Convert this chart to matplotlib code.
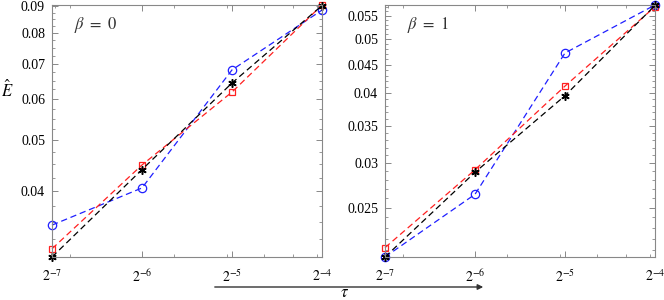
import matplotlib
matplotlib.use('Agg')
import matplotlib.pyplot as plt
from matplotlib.ticker import FixedLocator, FixedFormatter, LogLocator, NullFormatter
import numpy as np

plt.rcParams['font.family'] = ['Liberation Serif', 'DejaVu Serif']
plt.rcParams['mathtext.fontset'] = 'stix'

# step sizes tau = 2^-7 .. 2^-4
tau = [2**-7, 2**-6, 2**-5, 2**-4]
tau_labels = ['$2^{-7}$', '$2^{-6}$', '$2^{-5}$', '$2^{-4}$']

# beta = 0
b0_black = [0.0300, 0.0440, 0.0643, 0.0903]
b0_red = [0.0311, 0.0449, 0.0618, 0.0905]
b0_blue = [0.0345, 0.0406, 0.0681, 0.0885]

# beta = 1
b1_black = [0.0204, 0.0289, 0.0396, 0.0574]
b1_red = [0.0212, 0.0292, 0.0412, 0.0571]
b1_blue = [0.0204, 0.0264, 0.0472, 0.0575]

b0_yticks = [0.04, 0.05, 0.06, 0.07, 0.08, 0.09]
b1_yticks = [0.025, 0.03, 0.035, 0.04, 0.045, 0.05, 0.055]

frame = '#888888'

fig = plt.figure(figsize=(6.64, 3.0), dpi=100)
ax0 = fig.add_axes([52/664, 43/300, 270/664, 252/300])
ax1 = fig.add_axes([385/664, 43/300, 270/664, 252/300])


def draw(ax, black, red, blue, yticks, ylim, minor_step, label):
    ax.plot(tau, blue, color='#1f1fff', ls=(0, (5, 3)), lw=0.9, marker='o',
            mfc='none', ms=6, mew=0.9, clip_on=False)
    ax.plot(tau, red, color='#ff2020', ls=(0, (5, 3)), lw=0.9, marker='s',
            mfc='none', ms=5, mew=0.9, clip_on=False)
    ax.plot(tau, black, color='black', ls=(0, (5, 3)), lw=0.9,
            marker=(6, 2, 0), ms=6, mew=1.1, clip_on=False)
    ax.set_xscale('log')
    ax.set_yscale('log')
    ax.set_xlim(tau[0], tau[-1])
    ax.set_ylim(*ylim)
    ax.xaxis.set_major_locator(FixedLocator(tau))
    ax.xaxis.set_major_formatter(FixedFormatter(tau_labels))
    ax.xaxis.set_minor_locator(LogLocator(base=10, subs=np.arange(2, 10)))
    ax.xaxis.set_minor_formatter(NullFormatter())
    ax.yaxis.set_major_locator(FixedLocator(yticks))
    ax.yaxis.set_major_formatter(FixedFormatter([f'{v:g}' for v in yticks]))
    ax.yaxis.set_minor_locator(FixedLocator(np.arange(0.02, 0.1, minor_step)))
    ax.yaxis.set_minor_formatter(NullFormatter())
    ax.tick_params(which='both', direction='in', top=True, right=True,
                   color=frame, labelsize=10, pad=5)
    ax.tick_params(which='major', length=4, width=0.7)
    ax.tick_params(which='minor', length=2, width=0.6)
    ax.tick_params(axis='x', pad=8)
    for s in ax.spines.values():
        s.set_color(frame)
        s.set_linewidth(0.8)
    ax.text(0.08, 0.96, label, transform=ax.transAxes, fontsize=12,
            va='top', ha='left', color='#333333')


draw(ax0, b0_black, b0_red, b0_blue, b0_yticks, (0.0300, 0.0905), 0.0025,
     r'$\beta\ =\ 0$')
draw(ax1, b1_black, b1_red, b1_blue, b1_yticks, (0.0204, 0.0575), 0.001,
     r'$\beta\ =\ 1$')

ax0.set_ylabel(r'$\hat{E}$', fontsize=12, rotation=0, labelpad=10)
ax0.yaxis.set_label_coords(-0.165, 0.62)

fig.patches.append(matplotlib.patches.FancyArrowPatch(
    (212/664, 13/300), (486/664, 13/300), transform=fig.transFigure,
    arrowstyle='-|>', mutation_scale=8, color='#333333', lw=1.0))
fig.text(345/664, 3/300, r'$\tau$', fontsize=12, ha='center', va='baseline')

fig.savefig('out.png', dpi=100)
